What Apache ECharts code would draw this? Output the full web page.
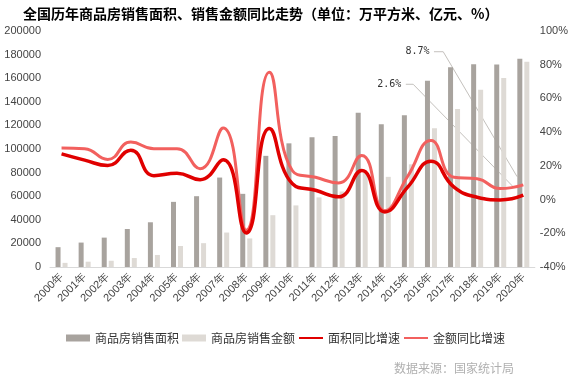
<!DOCTYPE html>
<html>
<head>
<meta charset="utf-8">
<script src="https://cdn.jsdelivr.net/npm/echarts@6/dist/echarts.min.js"></script>
<style>
html,body{margin:0;padding:0;background:#fff;}
#chart{width:571px;height:381px;}
</style>
</head>
<body>
<div id="chart"></div>
<script>
var years = ['2000年','2001年','2002年','2003年','2004年','2005年','2006年','2007年','2008年','2009年','2010年','2011年','2012年','2013年','2014年','2015年','2016年','2017年','2018年','2019年','2020年'];
var salesArea = [16800,20700,24900,32200,37900,55200,60000,75800,62000,94200,104800,109900,111000,130800,121000,128500,157800,169300,171800,171700,176500];
var salesAmount = [3500,4500,5300,7600,10200,17800,20200,29200,24200,43900,52200,59000,64000,80000,76400,87000,117500,133800,150300,160200,174000];
var areaGrowth = [27.1,23.4,20.2,29.3,14.2,15.6,11.8,23.6,-19.8,42.1,9.4,5.5,1.6,17.3,-7.3,7.5,22.8,7.4,1.4,-0.2,2.6];
var amountGrowth = [30.6,30.2,23.8,34.1,30.1,30.2,18.3,42.5,-18.2,75.5,17.1,13.2,9.9,26.2,-6.6,14.0,35.0,13.2,12.3,6.5,8.7];
var leftTicks = {min:0, max:200000, interval:20000};
var rightTicks = {min:-40, max:100, interval:20};
// leader lines for the two annotations (x = category index position, y = % axis)
var leader87 = [[16.13,87.7],[16.53,87.7],[19.73,13.6]];
var leader26 = [[14.91,68.4],[15.23,68.4],[19.56,7.6]];

function leaderData(pts, val){
  return pts.map(function(p,i){
    if(i===0){
      return {value:p, label:{show:true, position:'left', distance:4, formatter: val.toFixed(1)+'%',
        fontFamily:'DejaVu Sans Mono', fontSize:10, color:'#333'}};
    }
    return {value:p};
  });
}

var chart = echarts.init(document.getElementById('chart'), null, {renderer:'canvas'});
var option = {
  animation:false,
  backgroundColor:'#ffffff',
  title:[{
    text:'全国历年商品房销售面积、销售金额同比走势（单位：万平方米、亿元、%）',
    left:18, top:2,
    textStyle:{fontSize:14, fontWeight:'bold', color:'#000', fontFamily:'Noto Sans CJK SC'}
  },{
    text:'数据来源：国家统计局',
    right:52, bottom:2,
    textStyle:{fontSize:12, fontWeight:'normal', color:'#b0b0b0', fontFamily:'Noto Sans CJK SC'}
  }],
  legend:{
    left:'center', top:327,
    itemWidth:24, itemHeight:7, itemGap:3,
    textStyle:{fontSize:12, color:'#333', fontFamily:'Noto Sans CJK SC'},
    data:[
      {name:'商品房销售面积', icon:'rect'},
      {name:'商品房销售金额', icon:'rect'},
      {name:'面积同比增速', itemStyle:{opacity:0}},
      {name:'金额同比增速', itemStyle:{opacity:0}}
    ]
  },
  grid:{left:50, right:36, top:31, bottom:114, containLabel:false},
  xAxis:[{
    type:'category', data:years, boundaryGap:true,
    axisLine:{show:true, lineStyle:{color:'#d9d9d9', width:1}},
    axisTick:{show:false},
    axisLabel:{rotate:45, interval:0, fontSize:11, color:'#444', margin:8, fontFamily:'Liberation Sans'}
  },{
    type:'value', min:-0.5, max:20.5, show:false, gridIndex:0
  }],
  yAxis:[{
    type:'value', min:leftTicks.min, max:leftTicks.max, interval:leftTicks.interval,
    axisLine:{show:false}, axisTick:{show:false}, splitLine:{show:false},
    axisLabel:{fontSize:11, color:'#444', margin:9, fontFamily:'Liberation Sans',
      formatter:function(v){return String(v);}}
  },{
    type:'value', min:rightTicks.min, max:rightTicks.max, interval:rightTicks.interval, position:'right',
    axisLine:{show:false}, axisTick:{show:false}, splitLine:{show:false},
    axisLabel:{fontSize:11, color:'#444', margin:5, fontFamily:'Liberation Sans',
      formatter:function(v){return v + '%';}}
  }],
  series:[{
    name:'商品房销售面积', type:'bar', data:salesArea, barWidth:5, barGap:'40%',
    itemStyle:{color:'#a8a39e'}
  },{
    name:'商品房销售金额', type:'bar', data:salesAmount, barWidth:5,
    itemStyle:{color:'#dedad5'}
  },{
    name:'leader87', type:'line', xAxisIndex:1, yAxisIndex:1, data:leaderData(leader87, amountGrowth[20]),
    symbol:'circle', symbolSize:1, itemStyle:{color:'rgba(0,0,0,0)'},
    lineStyle:{color:'#c4c1bd', width:1}, silent:true, z:1
  },{
    name:'leader26', type:'line', xAxisIndex:1, yAxisIndex:1, data:leaderData(leader26, areaGrowth[20]),
    symbol:'circle', symbolSize:1, itemStyle:{color:'rgba(0,0,0,0)'},
    lineStyle:{color:'#c4c1bd', width:1}, silent:true, z:1
  },{
    name:'面积同比增速', type:'line', yAxisIndex:1, data:areaGrowth, smooth:true,
    symbol:'none', lineStyle:{color:'#e00000', width:3.5}, itemStyle:{color:'#e00000'}, z:4
  },{
    name:'金额同比增速', type:'line', yAxisIndex:1, data:amountGrowth, smooth:true,
    symbol:'none', lineStyle:{color:'#f2605e', width:3}, itemStyle:{color:'#f2605e'}, z:3
  }]
};
chart.setOption(option);
</script>
</body>
</html>
